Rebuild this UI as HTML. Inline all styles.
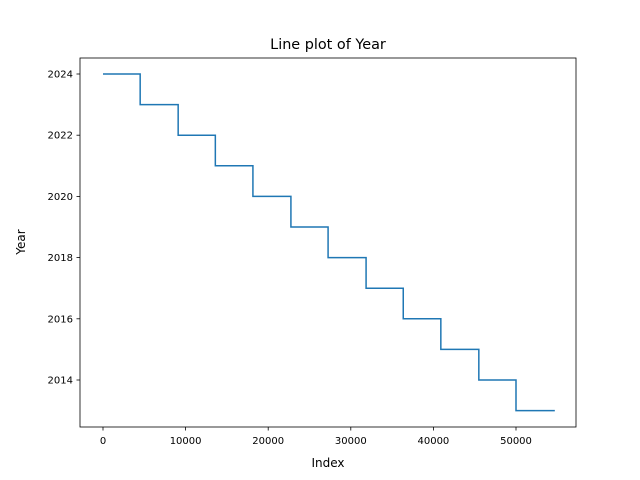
<!DOCTYPE html>
<html><head><meta charset="utf-8"><style>body{margin:0;background:#fff}svg{display:block}text{font-family:"DejaVu Sans","Liberation Sans",sans-serif;fill:#000}</style></head>
<body>
<svg id="chart" width="640" height="480">
<rect x="0" y="0" width="640" height="480" fill="#fff"/>
<text x="328" y="49" font-size="14.4" text-anchor="middle">Line plot of Year</text>
<g id="plot"></g>
<rect x="80" y="58" width="496" height="369" fill="none" stroke="#000" stroke-width="0.8"/>
<text x="328" y="467" font-size="12" text-anchor="middle">Index</text>
<text transform="translate(25,242) rotate(-90)" font-size="12" text-anchor="middle">Year</text>
</svg>
<script>
const years = [2024,2023,2022,2021,2020,2019,2018,2017,2016,2015,2014,2013];
const starts = [0,4500,9100,13600,18150,22750,27250,31850,36350,40900,45500,50000];
const endIndex = 54700;
const xTicks = [0,10000,20000,30000,40000,50000];
const yTicks = [2014,2016,2018,2020,2022,2024];
const NS='http://www.w3.org/2000/svg';
const X = v => 103 + v*(516-103)/50000;
const Y = v => 74 + (2024-v)*(380-74)/10;
const g = document.getElementById('plot');
function mk(t,a){const e=document.createElementNS(NS,t);for(const k in a)e.setAttribute(k,a[k]);g.appendChild(e);return e;}
xTicks.forEach(t=>{
  const l=mk('line',{x1:X(t),x2:X(t),y1:427,y2:430.5,stroke:'#000','stroke-width':0.8});
  
  
  const tx=mk('text',{x:X(t),y:444,'font-size':10,'text-anchor':'middle'});tx.textContent=t;
  
  
});
yTicks.forEach(t=>{
  const l=mk('line',{x1:76.5,x2:80,y1:Y(t),y2:Y(t),stroke:'#000','stroke-width':0.8});
  
  
  const tx=mk('text',{x:73,y:Y(t)+3.5,'font-size':10,'text-anchor':'end'});tx.textContent=t;
  
  
});
let d='';
years.forEach((y,i)=>{
  const x0=X(starts[i]), x1=X(i+1<starts.length?starts[i+1]:endIndex);
  d+=(i===0?'M':'L')+x0+','+Y(y)+'L'+x1+','+Y(y);
});
const p=mk('path',{d:d,fill:'none',stroke:'#1f77b4','stroke-width':1.5});


</script>
</body></html>
